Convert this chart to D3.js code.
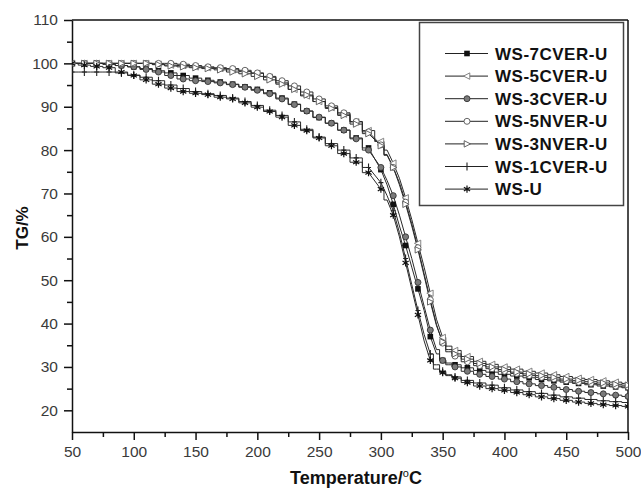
<!DOCTYPE html>
<html>
<head>
<meta charset="utf-8">
<script src="https://cdn.jsdelivr.net/npm/d3@7"></script>
<style>
  html, body { margin: 0; padding: 0; background: #fff; }
  svg { display: block; }
</style>
</head>
<body>
<svg id="chart" width="641" height="489"></svg>
<script>
// Temperature grid (°C); denser sampling through the main decomposition step
const temperature = [50,60,70,80,90,100,110,120,130,140,150,160,170,180,190,200,210,220,230,240,250,260,270,280,290,300,
  305,310,315,320,325,330,335,340,345,350,355,360,
  370,380,390,400,410,420,430,440,450,460,470,480,490,500];

// Residual mass (TG, %) for each sample
const ws7cver = [100,100,100,99.8,99.5,99.2,98.8,98.3,97.8,97.2,96.6,96.1,95.7,95.2,94.6,94,93.2,92,90.6,89,87.5,86.2,84.6,82.8,80.5,75.5,
  72,67.5,62.5,58,53,48,43,37,33,31.5,30.9,30.5,
  29.8,29.2,28.8,28.3,27.9,27.5,27.1,26.8,26.5,26.2,25.9,25.6,25.4,25.2];
const ws5cver = [100,100,100,100,100,100,100,99.8,99.6,99.5,99.2,99,98.8,98.5,98.1,97.7,96.8,95.5,94,92.5,91.2,89.8,88.3,86.5,84.5,82,
  80,77,73.5,69,64,58.5,53,47,41,36.8,34.8,33.8,
  32.4,31.3,30.6,30,29.5,29,28.6,28.2,27.8,27.4,27.1,26.8,26.5,26.2];
const ws3cver = [100,100,100,99.8,99.5,99.2,98.6,98,97.2,96.4,96,95.8,95.5,95.1,94.5,93.8,93,91.8,90.5,89,87.6,86.2,84.6,82.6,80,76,
  73,69.5,65,60,55,49.5,44,38.5,34,31.5,30.5,30,
  29,28.3,27.8,27.2,26.6,26.1,25.7,25.3,24.8,24.4,24.1,23.8,23.5,23.2];
const ws5nver = [100,100,100,100,100,100,100,100,100,99.8,99.5,99.2,99,98.8,98.4,97.8,97,96,94.8,93.4,91.8,90.2,88.6,86.6,84.2,81.2,
  79,76,72.5,68,63,57.5,51.5,45.5,39.8,35.5,33.5,32.5,
  31.2,30.3,29.6,29,28.5,28,27.6,27.2,26.8,26.5,26.2,25.9,25.6,25.4];
const ws3nver = [100,100,100,100,100,100,100,99.7,99.4,99.2,99,98.8,98.5,98,97.6,97,96.2,95.2,94,92.7,91.2,89.6,88,86,83.8,81,
  78.8,76,72,67.5,62.5,57,51,45,39.5,35.8,34,33,
  31.8,30.8,30,29.4,28.8,28.4,28,27.6,27.2,26.9,26.6,26.3,26,25.8];
const ws1cver = [98,98,98,98,97.8,97.3,96.8,96,95,94.2,93.5,93,92.6,92,91.2,90.3,89.2,88,86.5,84.8,83,81.5,80,78.2,76,72.5,
  69.5,66,61,55,49,43,37.5,33,30.5,29,28.2,27.7,
  26.9,26.3,25.8,25.2,24.7,24.3,23.9,23.5,23.1,22.8,22.5,22.2,22,21.8];
const wsU = [100,99.6,99.3,99,98,97.2,96.2,95.2,94.3,93.5,93.1,92.8,92.2,91.8,90.9,89.9,88.9,87.6,85.7,84.5,82.8,81,79.2,77.2,74.8,71,
  68.5,65,60,54,48,42,36,31.5,29.5,28.7,28,27.4,
  26.4,25.6,25,24.6,24.1,23.6,23.1,22.7,22.3,21.9,21.6,21.3,21.1,20.9];

const seriesNames = ["WS-7CVER-U","WS-5CVER-U","WS-3CVER-U","WS-5NVER-U","WS-3NVER-U","WS-1CVER-U","WS-U"];
const seriesValues = [ws7cver, ws5cver, ws3cver, ws5nver, ws3nver, ws1cver, wsU];
const markerTypes = ["square","triLeft","circleGray","circleOpen","triRight","plus","star"];

const xTicks = [50,100,150,200,250,300,350,400,450,500];
const xMinorTicks = [75,125,175,225,275,325,375,425,475];
const yTicks = [20,30,40,50,60,70,80,90,100,110];
const yMinorTicks = [25,35,45,55,65,75,85,95,105];

const svg = d3.select("#chart");
const x = d3.scaleLinear().domain([50, 500]).range([72, 628]);
const y = d3.scaleLinear().domain([15, 110]).range([432, 20]);

const tickFont = "'Liberation Sans', Arial, sans-serif";

// clip region for the curves
svg.append("defs").append("clipPath").attr("id", "plotClip")
  .append("rect").attr("x", x(50)).attr("y", y(110)).attr("width", x(500) - x(50)).attr("height", y(15) - y(110));

// Frame (top and right)
svg.append("line").attr("x1", x(50)).attr("x2", x(500)).attr("y1", y(110)).attr("y2", y(110))
  .attr("stroke", "#111").attr("stroke-width", 1.5);
svg.append("line").attr("x1", x(500)).attr("x2", x(500)).attr("y1", y(110)).attr("y2", y(15))
  .attr("stroke", "#111").attr("stroke-width", 1.5);

function styleAxis(g) {
  g.selectAll("path.domain").attr("stroke", "#111").attr("stroke-width", 1.5);
  g.selectAll(".tick line").attr("stroke", "#111").attr("stroke-width", 1.5);
  g.selectAll(".tick text").attr("fill", "#3a3a3a").style("font-family", tickFont).style("font-size", "15.5px");
}

// X axis
const xAxisG = svg.append("g").attr("transform", `translate(0,${y(15)})`)
  .call(d3.axisBottom(x).tickValues(xTicks).tickSize(8).tickSizeOuter(0).tickPadding(6).tickFormat(d3.format("d")));
styleAxis(xAxisG);
const xMinorG = svg.append("g").attr("transform", `translate(0,${y(15)})`)
  .call(d3.axisBottom(x).tickValues(xMinorTicks).tickSize(5).tickSizeOuter(0).tickFormat(""));
xMinorG.select("path.domain").remove();
styleAxis(xMinorG);

// Y axis
const yAxisG = svg.append("g").attr("transform", `translate(${x(50)},0)`)
  .call(d3.axisLeft(y).tickValues(yTicks).tickSize(8).tickSizeOuter(0).tickPadding(6).tickFormat(d3.format("d")));
styleAxis(yAxisG);
const yMinorG = svg.append("g").attr("transform", `translate(${x(50)},0)`)
  .call(d3.axisLeft(y).tickValues(yMinorTicks).tickSize(5).tickSizeOuter(0).tickFormat(""));
yMinorG.select("path.domain").remove();
styleAxis(yMinorG);

// Axis titles
svg.append("text")
  .attr("transform", `translate(28,${(y(110) + y(15)) / 2 + 2}) rotate(-90)`)
  .attr("text-anchor", "middle")
  .style("font-family", tickFont).style("font-weight", "bold").style("font-size", "17px")
  .attr("fill", "#111")
  .text("TG/%");

const xTitle = svg.append("text")
  .attr("x", 356).attr("y", 484)
  .attr("text-anchor", "middle")
  .style("font-family", tickFont).style("font-weight", "bold").style("font-size", "18px")
  .attr("fill", "#111");
xTitle.append("tspan").text("Temperature/");
xTitle.append("tspan").attr("dy", -7).style("font-size", "11px").style("font-weight", "normal").text("o");
xTitle.append("tspan").attr("dy", 7).text("C");

// Curve path: small changes drawn as steps, steep changes as straight segments
function tgPath(vals) {
  const p = d3.path();
  p.moveTo(x(temperature[0]), y(vals[0]));
  for (let i = 1; i < vals.length; i++) {
    const x0 = x(temperature[i - 1]), x1 = x(temperature[i]);
    const y0 = y(vals[i - 1]), y1 = y(vals[i]);
    if (Math.abs(vals[i] - vals[i - 1]) <= 2.6) {
      const xm = (x0 + x1) / 2;
      p.lineTo(xm, y0); p.lineTo(xm, y1); p.lineTo(x1, y1);
    } else {
      p.lineTo(x1, y1);
    }
  }
  return p.toString();
}

function drawMarker(g, type, cx, cy) {
  const m = g.append("g").attr("transform", `translate(${cx},${cy})`);
  switch (type) {
    case "square":
      m.append("rect").attr("x", -2.8).attr("y", -2.8).attr("width", 5.6).attr("height", 5.6).attr("fill", "#111");
      break;
    case "triLeft":
      m.append("path").attr("d", "M-3.5,0L2.8,-3.2L2.8,3.2Z").attr("fill", "#fff").attr("stroke", "#777").attr("stroke-width", 0.9);
      break;
    case "triRight":
      m.append("path").attr("d", "M3.5,0L-2.8,-3.2L-2.8,3.2Z").attr("fill", "#fff").attr("stroke", "#555").attr("stroke-width", 0.9);
      break;
    case "circleGray":
      m.append("circle").attr("r", 3).attr("fill", "#7a7a7a").attr("stroke", "#333").attr("stroke-width", 0.9);
      break;
    case "circleOpen":
      m.append("circle").attr("r", 3).attr("fill", "#fff").attr("stroke", "#555").attr("stroke-width", 0.9);
      break;
    case "plus":
      m.append("path").attr("d", "M0,-4V4M-2.5,0H2.5").attr("stroke", "#222").attr("stroke-width", 1.1).attr("fill", "none");
      break;
    case "star":
      m.append("path").attr("d", d3.symbol(d3.symbolAsterisk, 36)()).attr("stroke", "#111").attr("stroke-width", 1.2).attr("fill", "none");
      m.append("circle").attr("r", 1.3).attr("fill", "#111");
      break;
  }
}

// Curves and markers
const plot = svg.append("g").attr("clip-path", "url(#plotClip)");
seriesValues.forEach((vals) => {
  plot.append("path")
    .attr("d", tgPath(vals))
    .attr("fill", "none")
    .attr("stroke", "#2a2a2a")
    .attr("stroke-width", 1);
});
seriesValues.forEach((vals, si) => {
  const mg = plot.append("g");
  vals.forEach((v, i) => {
    if (temperature[i] % 10 === 0) drawMarker(mg, markerTypes[si], x(temperature[i]), y(v));
  });
});

// Legend
const legend = svg.append("g");
legend.append("rect").attr("x", 419.5).attr("y", 22.5).attr("width", 204).attr("height", 183)
  .attr("fill", "#fff").attr("stroke", "#444").attr("stroke-width", 1.5);
seriesNames.forEach((name, i) => {
  const cy = 53.5 + i * 22.6;
  legend.append("line").attr("x1", 445).attr("x2", 488).attr("y1", cy).attr("y2", cy)
    .attr("stroke", "#222").attr("stroke-width", 1);
  drawMarker(legend, markerTypes[i], 467, cy);
  legend.append("text").attr("x", 495).attr("y", cy + 6)
    .style("font-family", tickFont).style("font-weight", "bold").style("font-size", "17px")
    .style("letter-spacing", "0.5px")
    .attr("fill", "#111")
    .text(name);
});
</script>
</body>
</html>
